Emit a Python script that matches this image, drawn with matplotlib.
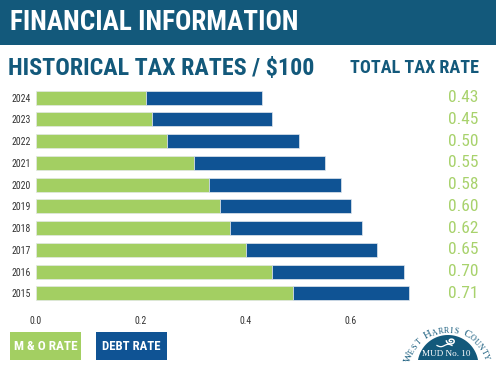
import os
import numpy as np
import matplotlib
matplotlib.use("Agg")
import matplotlib.pyplot as plt
import matplotlib.font_manager as fm
from matplotlib.patches import Rectangle, Polygon

# ---------------- data ----------------
years = ["2024", "2023", "2022", "2021", "2020", "2019", "2018", "2017", "2016", "2015"]
mo_rate = [0.21, 0.22, 0.25, 0.30, 0.33, 0.35, 0.37, 0.40, 0.45, 0.49]
debt_rate = [0.22, 0.23, 0.25, 0.25, 0.25, 0.25, 0.25, 0.25, 0.25, 0.22]
total_labels = ["0.43", "0.45", "0.50", "0.55", "0.58", "0.60", "0.62", "0.65", "0.70", "0.71"]
x_ticks = [0.0, 0.2, 0.4, 0.6]
x_ticklabels = ["0.0", "0.2", "0.4", "0.6"]

# ---------------- colours ----------------
HEADER = "#13597b"
GREEN = "#a3cf62"
BLUE = "#0f5394"
TEXT_GREEN = "#a8d26c"

# ---------------- fonts ----------------
def pick_font(prefs):
    by_base = {}
    for f in fm.fontManager.ttflist:
        by_base.setdefault(os.path.basename(f.fname).lower(), f.fname)
    for p in prefs:
        for base, path in sorted(by_base.items()):
            if base.startswith(p.lower()):
                return fm.FontProperties(fname=path)
    return None

bold_cond = pick_font(["notosans-extracondensedbold", "robotocondensed-bold", "notosans-condensedbold",
                       "liberationsansnarrow-bold", "dejavusanscondensed-bold", "opensans-condensedbold"]) \
    or fm.FontProperties(family="DejaVu Sans", weight="bold")
reg_cond = pick_font(["notosans-extracondensed.", "robotocondensed-regular", "notosans-condensed.",
                      "liberationsansnarrow-regular", "dejavusanscondensed.", "notosans-semicondensed."]) \
    or fm.FontProperties(family="DejaVu Sans")

fig = plt.figure(figsize=(4.96, 3.72), dpi=100)
fig.patch.set_facecolor("white")

# background overlay in pixel coordinates
bg = fig.add_axes([0, 0, 1, 1], zorder=0)
bg.set_xlim(0, 496)
bg.set_ylim(372, 0)
bg.axis("off")

bg.add_patch(Rectangle((0, 0), 496, 45, color=HEADER, lw=0))

renderer = fig.canvas.get_renderer()

def fit_text(x, y, s, target_w, max_pt, fp, color, ha="left", va="center"):
    t = bg.text(x, y, s, fontproperties=fp, fontsize=max_pt, color=color, ha=ha, va=va)
    w = t.get_window_extent(renderer).width
    if w > target_w:
        t.set_fontsize(max_pt * target_w / w)
    return t

fit_text(10, 23, "FINANCIAL INFORMATION", 300, 19.5, bold_cond, "white")
fit_text(8, 68, "HISTORICAL TAX RATES / $100", 305, 20, bold_cond, HEADER)
fit_text(479, 68, "TOTAL TAX RATE", 130, 17, bold_cond, HEADER, ha="right")

# ---------------- chart ----------------
ax = fig.add_axes([36 / 496, 1 - 306.4 / 372, 420 / 496, 221.7 / 372], zorder=2)
ax.patch.set_alpha(0)
ypos = np.arange(len(years))[::-1]
ax.barh(ypos, mo_rate, height=0.645, color=GREEN, edgecolor="#e2e8e4", linewidth=0.5)
ax.barh(ypos, debt_rate, left=mo_rate, height=0.645, color=BLUE, edgecolor="#e2e8ee", linewidth=0.5)
ax.set_xlim(0, 0.8)
ax.set_ylim(-0.6, 9.6)
for s in ax.spines.values():
    s.set_visible(False)
ax.set_yticks(ypos)
ax.set_yticklabels(years)
ax.set_xticks(x_ticks)
ax.set_xticklabels(x_ticklabels)
ax.tick_params(axis="both", length=0, colors="#333333")
ax.tick_params(axis="y", pad=3.5)
ax.tick_params(axis="x", pad=7)
for lab in ax.get_yticklabels() + ax.get_xticklabels():
    lab.set_fontproperties(reg_cond)
    lab.set_fontsize(7)

for yp, lab in zip(ypos, total_labels):
    ax.text(0.813, yp, lab, ha="center", va="center", fontproperties=reg_cond,
            fontsize=12.5, color=TEXT_GREEN)

# ---------------- legend boxes ----------------
bg.add_patch(Rectangle((10, 332), 71, 28, color=GREEN, lw=0))
bg.add_patch(Rectangle((96, 332), 71, 28, color=BLUE, lw=0))
fit_text(45.5, 346, "M & O RATE", 64, 11.5, bold_cond, "white", ha="center")
fit_text(131.5, 346, "DEBT RATE", 58, 11.5, bold_cond, "white", ha="center")

# ---------------- logo ----------------
cx, cy, r = 448.0, 365.5, 30.5
a0 = np.arcsin((cy - 360) / r)
tt = np.linspace(a0, np.pi - a0, 60)
dome = np.column_stack([cx + r * np.cos(tt), cy - r * np.sin(tt)])
bg.add_patch(Polygon(dome, closed=True, color=HEADER, lw=0))
bg.text(cx - 1.5, 353.5, "MUD No. 10", family="Liberation Serif", fontsize=6.6, color="white",
        ha="center", va="center")
# swirl
s = np.linspace(0, 2.6 * np.pi, 80)
rr = 4.6 * (1 - s / (3.2 * np.pi))
bg.plot(cx + 3 + rr * np.cos(s + np.pi), 341 - rr * np.sin(s + np.pi) * 0.75, color="white", lw=1.1)
wx = np.linspace(cx - 11, cx + 4, 30)
bg.plot(wx, 345.5 + 1.2 * np.sin((wx - wx[0]) / 15 * 2 * np.pi), color="white", lw=0.9)

arc_text = "WEST HARRIS COUNTY"
caps = {0, 5, 12}
acx, acy, rt = 448.0, 371.0, 38.5
weights = [1.25 if i in caps else (0.7 if ch == " " else (0.55 if ch == "I" else 0.95))
           for i, ch in enumerate(arc_text)]
cum = np.cumsum(weights) - np.array(weights) / 2
cum = (cum - cum[0]) / (cum[-1] - cum[0])
angs = np.deg2rad(161) + (np.deg2rad(20) - np.deg2rad(161)) * cum
for i, (ch, a) in enumerate(zip(arc_text, angs)):
    if ch == " ":
        continue
    bg.text(acx + rt * np.cos(a), acy - rt * np.sin(a), ch, family="Liberation Serif",
            fontsize=7.8 if i in caps else 5.8, color=HEADER, ha="center", va="baseline",
            rotation=np.rad2deg(a) - 90, rotation_mode="anchor")

fig.savefig("out.png", dpi=100, facecolor="white")
